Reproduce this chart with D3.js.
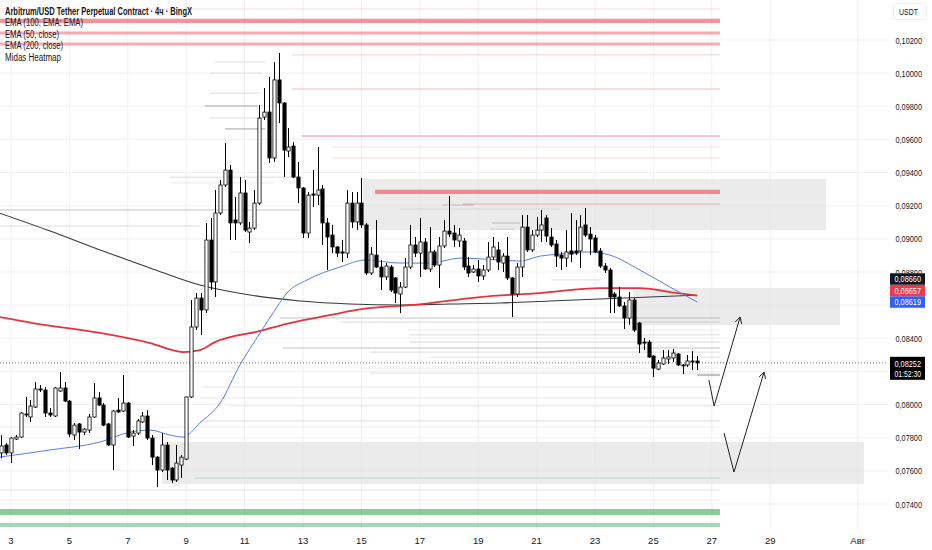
<!DOCTYPE html>
<html>
<head>
<meta charset="utf-8">
<script src="https://cdn.jsdelivr.net/npm/d3@7"></script>
<style>
  body { margin: 0; background: #fff; }
  svg { display: block; font-family: "Liberation Sans Narrow", "Liberation Sans", Arial, sans-serif; }
</style>
</head>
<body>
<script>
// Bars: 4h, first bar = July 2, 16:00 (day numbers are days of July, Aug 1 = 32)
const firstBarDay = 2 + 16 / 24;
const barDays = 4 / 24;

// [open, high, low, close]
const ohlc = [
  [0.07708,0.07816,0.07677,0.07750],[0.07756,0.07768,0.07695,0.07708],[0.07708,0.07804,0.07647,0.07798],[0.07792,0.07816,0.07786,0.07804],
  [0.07804,0.07955,0.07798,0.07949],[0.07943,0.08046,0.07925,0.07937],[0.07925,0.08027,0.07895,0.07991],[0.07985,0.08136,0.07979,0.08094],
  [0.08094,0.08118,0.08076,0.08090],[0.08088,0.08106,0.07925,0.07949],[0.07949,0.07979,0.07925,0.07937],[0.07931,0.08106,0.07925,0.08100],
  [0.08082,0.08196,0.08076,0.08100],[0.08100,0.08136,0.08015,0.08021],[0.08021,0.08027,0.07804,0.07822],[0.07816,0.07889,0.07786,0.07876],
  [0.07883,0.07889,0.07732,0.07834],[0.07834,0.07858,0.07816,0.07852],[0.07846,0.07943,0.07828,0.07925],[0.07925,0.08130,0.07919,0.08040],
  [0.08040,0.08076,0.07991,0.07997],[0.07997,0.08009,0.07870,0.07876],[0.07883,0.07889,0.07750,0.07756],[0.07756,0.07967,0.07605,0.07961],
  [0.07967,0.08040,0.07952,0.07955],[0.07961,0.08178,0.07955,0.08009],[0.08009,0.08015,0.07798,0.07804],[0.07810,0.07846,0.07750,0.07828],
  [0.07828,0.07913,0.07816,0.07901],[0.07895,0.07955,0.07889,0.07931],[0.07931,0.07967,0.07786,0.07798],[0.07798,0.07816,0.07635,0.07683],
  [0.07683,0.07689,0.07502,0.07605],[0.07605,0.07828,0.07593,0.07756],[0.07756,0.07774,0.07545,0.07605],[0.07617,0.07623,0.07527,0.07545],
  [0.07545,0.07756,0.07533,0.07647],[0.07635,0.07695,0.07557,0.07683],[0.07671,0.08046,0.07665,0.08046],[0.08046,0.08631,0.08040,0.08468],
  [0.08468,0.08673,0.08450,0.08643],[0.08643,0.08673,0.08420,0.08571],[0.08571,0.09096,0.08552,0.08993],[0.08993,0.09126,0.08691,0.08740],
  [0.08740,0.09295,0.08649,0.09156],[0.09156,0.09355,0.09144,0.09325],[0.09325,0.09578,0.09313,0.09415],[0.09415,0.09446,0.08993,0.09096],
  [0.09114,0.09252,0.08993,0.09096],[0.09096,0.09373,0.09084,0.09277],[0.09277,0.09355,0.09041,0.09053],[0.09041,0.09102,0.08975,0.09065],
  [0.09065,0.09295,0.09053,0.09216],[0.09216,0.09808,0.09204,0.09729],[0.09735,0.09910,0.09717,0.09765],[0.09765,0.09977,0.09458,0.09488],
  [0.09488,0.10067,0.09464,0.09959],[0.09959,0.10122,0.09699,0.09820],[0.09820,0.09826,0.09373,0.09536],[0.09530,0.09669,0.09494,0.09554],
  [0.09560,0.09584,0.09367,0.09373],[0.09373,0.09464,0.09216,0.09307],[0.09307,0.09313,0.09005,0.09035],[0.09035,0.09283,0.09005,0.09264],
  [0.09271,0.09415,0.09192,0.09264],[0.09264,0.09554,0.09204,0.09295],[0.09301,0.09325,0.08963,0.09096],[0.09096,0.09126,0.08812,0.09011],
  [0.09023,0.09084,0.08914,0.08951],[0.08951,0.08957,0.08890,0.08914],[0.08921,0.08993,0.08860,0.08914],[0.08914,0.09295,0.08884,0.09216],
  [0.09216,0.09283,0.09065,0.09102],[0.09102,0.09283,0.09053,0.09216],[0.09216,0.09367,0.09065,0.09084],[0.09084,0.09096,0.08782,0.08794],
  [0.08794,0.08951,0.08782,0.08908],[0.08902,0.09114,0.08824,0.08830],[0.08830,0.08872,0.08691,0.08770],[0.08770,0.08854,0.08752,0.08836],
  [0.08830,0.08842,0.08679,0.08691],[0.08764,0.08770,0.08613,0.08673],[0.08667,0.08740,0.08552,0.08709],[0.08709,0.08884,0.08703,0.08830],
  [0.08830,0.09084,0.08818,0.08963],[0.08963,0.09011,0.08890,0.08914],[0.08914,0.09126,0.08770,0.08981],[0.08981,0.09005,0.08812,0.08818],
  [0.08818,0.09071,0.08800,0.08921],[0.08921,0.08933,0.08830,0.08842],[0.08842,0.09011,0.08703,0.08957],[0.08957,0.09114,0.08945,0.09047],
  [0.09047,0.09258,0.09011,0.09029],[0.09035,0.09084,0.08951,0.08993],[0.08987,0.09065,0.08951,0.09023],[0.08987,0.09005,0.08812,0.08830],
  [0.08836,0.08890,0.08770,0.08794],[0.08800,0.08842,0.08794,0.08818],[0.08818,0.08872,0.08740,0.08776],[0.08776,0.08842,0.08752,0.08812],
  [0.08812,0.08981,0.08800,0.08890],[0.08890,0.09011,0.08872,0.08951],[0.08933,0.08981,0.08812,0.08860],[0.08854,0.08914,0.08800,0.08896],
  [0.08896,0.09011,0.08752,0.08764],[0.08764,0.08770,0.08528,0.08667],[0.08667,0.08854,0.08649,0.08830],[0.08830,0.09144,0.08770,0.09071],
  [0.09071,0.09144,0.08921,0.08933],[0.08933,0.09053,0.08921,0.09023],[0.09023,0.09132,0.09011,0.09053],[0.09053,0.09174,0.08981,0.09084],
  [0.09126,0.09144,0.08981,0.09017],[0.09011,0.09065,0.08951,0.08963],[0.08969,0.08993,0.08830,0.08896],[0.08902,0.08921,0.08812,0.08884],
  [0.08884,0.09053,0.08830,0.08921],[0.08927,0.09156,0.08860,0.08908],[0.08927,0.09114,0.08902,0.08914],[0.08927,0.09144,0.08824,0.09071],
  [0.09084,0.09186,0.09011,0.09023],[0.09029,0.09071,0.08902,0.08999],[0.09005,0.09023,0.08914,0.08921],[0.08927,0.08945,0.08824,0.08836],
  [0.08836,0.08854,0.08794,0.08812],[0.08812,0.08824,0.08552,0.08649],[0.08667,0.08679,0.08552,0.08649],[0.08649,0.08709,0.08589,0.08595],
  [0.08595,0.08619,0.08456,0.08522],[0.08522,0.08679,0.08481,0.08631],[0.08631,0.08643,0.08438,0.08450],[0.08492,0.08498,0.08311,0.08365],
  [0.08377,0.08402,0.08329,0.08371],[0.08377,0.08389,0.08281,0.08287],[0.08293,0.08299,0.08166,0.08220],[0.08214,0.08269,0.08208,0.08251],
  [0.08245,0.08329,0.08239,0.08281],[0.08275,0.08329,0.08245,0.08287],[0.08281,0.08335,0.08257,0.08311],[0.08305,0.08311,0.08233,0.08239],
  [0.08239,0.08245,0.08184,0.08233],[0.08239,0.08299,0.08227,0.08263],[0.08263,0.08323,0.08208,0.08257],[0.08263,0.08293,0.08208,0.08252]
];

// EMA lines: [day, price]
const ema200 = [
  [2.6,0.09156],[4.34,0.09047],[6.05,0.08933],[7.76,0.08824],[9.47,0.08721],[11.18,0.08661],[12.9,0.08625],
  [14.61,0.08607],[16.32,0.08601],[18.03,0.08607],[19.75,0.08613],[21.46,0.08625],[23.17,0.08637],[24.88,0.08649],[26.5,0.08660]
];
const ema100 = [
  [2.6,0.08528],[3.75,0.08492],[6.05,0.08432],[7.76,0.08371],[8.89,0.08317],[9.47,0.08329],[9.99,0.08377],
  [11.53,0.08444],[12.55,0.08492],[13.92,0.08540],[15.05,0.08577],[16.77,0.08601],[19.06,0.08649],[21.12,0.08673],
  [23.17,0.08703],[24.54,0.08703],[25.57,0.08679],[26.5,0.08657]
];
const ema50 = [
  [2.6,0.07683],[4.34,0.07726],[6.05,0.07774],[7.08,0.07834],[7.76,0.07846],[8.45,0.07816],[8.89,0.07804],
  [9.47,0.07889],[10.16,0.08009],[10.84,0.08239],[11.53,0.08432],[12.11,0.08589],[12.45,0.08673],[13.14,0.08752],
  [14.27,0.08830],[15.12,0.08872],[16.32,0.08854],[17.35,0.08854],[18.38,0.08884],[19.75,0.08872],[20.43,0.08866],
  [21.12,0.08896],[21.8,0.08908],[22.83,0.08921],[23.51,0.08902],[24.54,0.08812],[25.57,0.08709],[26.5,0.08619]
];

// Midas heatmap levels
const heatEndDay = 27.28;
// [price, fromDay, weight]
const redLevels = [
  [0.10387,2.6,1],[0.10315,2.6,5],[0.10242,2.6,3.5],[0.10176,2.6,3.5],[0.10110,12.62,1],[0.09904,12.62,1.5],
  [0.09621,12.97,2],[0.09554,13.92,0.7],[0.09488,13.99,0.7],[0.09283,15.47,5],[0.09210,18.48,1.5]
];
const greenLevels = [
  [0.07352,2.6,6],[0.07273,2.6,4],[0.07557,9.3,0.8]
];
// [price, fromDay, toDay, weight]
const grayLevels = [
  [0.09174,2.6,12.9,1.5],[0.09078,2.6,9.5,1],[0.10067,9.99,11.7,1],[0.10001,9.81,11.6,0.8],[0.09880,9.81,11.53,1],
  [0.09802,9.64,11.46,2],[0.09729,9.81,11.6,1],[0.09663,10.33,11.7,2],[0.09373,8.45,12.9,1],[0.09337,8.45,12.0,0.8],
  [0.09204,17.77,18.86,1.5],[0.09180,16.32,21.8,0.8],[0.09096,19.47,20.43,1.5],[0.09059,19.4,20.26,1],
  [0.08921,10.5,27.28,0.6],[0.08752,21.5,23.2,1],[0.08522,12.21,27.28,1.5],[0.08498,14.27,27.28,1],
  [0.08450,16.6,27.28,0.7],[0.08420,16.66,27.28,1],[0.08377,16.66,27.28,1.2],[0.08341,12.31,27.28,1.5],
  [0.08317,15.3,27.28,1],[0.08287,17.35,27.28,1],[0.08220,15.0,27.28,0.6],[0.08190,15.3,27.28,0.8],
  [0.08178,26.5,27.28,2.5],[0.08106,9.57,27.28,1],[0.08040,9.47,27.28,0.8],[0.07991,10.5,27.28,0.8],
  [0.07901,9.47,27.28,1],[0.07864,2.6,27.28,0.6],[0.07484,2.6,27.28,0.8],[0.07424,2.6,27.28,0.6]
];

// Grey zones: [fromDay, toDay, top price, bottom price]
const zones = [
  [15.05,30.91,0.09361,0.09053],
  [24.30,31.39,0.08703,0.08480],
  [8.17,32.21,0.07774,0.07521]
];

// Hand drawn arrows: [day, price]
const arrows = [
  [[26.90,0.08148],[27.08,0.07991],[27.97,0.08528]],
  [[27.42,0.07828],[27.76,0.07593],[28.79,0.08196]]
];

// Axes
const priceTicks = [0.074,0.076,0.078,0.080,0.082,0.084,0.086,0.088,0.090,0.092,0.094,0.096,0.098,0.100,0.102];
const dayTicks = [3,5,7,9,11,13,15,17,19,21,23,25,27,29,32];
const dayLabels = ['3','5','7','9','11','13','15','17','19','21','23','25','27','29','Авг'];

const legendLines = ['Arbitrum/USD Tether Perpetual Contract · 4ч · BingX','EMA (100, EMA: EMA)','EMA (50, close)','EMA (200, close)','Midas Heatmap'];

// Value tags on the price scale
const lastValues = [
  { value: 0.08660, color: '#131722' },
  { value: 0.08657, color: '#f0394d' },
  { value: 0.08619, color: '#2962ff' }
];
const lastPrice = 0.08252;
const countdown = '01:52:30';

draw();

function draw() {
  const width = 932, height = 550;
  const plotW = 888, plotH = 530;

  // widths the legend rows take in the screenshot (the font there is narrow)
  const legendWidths = [187, 78, 54, 58, 56];
  const priceTextW = 26.5;

  const x = d3.scaleLinear().domain([3, 29]).range([11, 770.2]);
  const y = d3.scaleLinear().domain([0.074, 0.102]).range([504, 40]);

  const fmt = d3.formatLocale({ decimal: ',', thousands: ' ', grouping: [3], currency: ['', ''] }).format('.5f');

  const redW = d3.scaleLinear().domain([0.7, 5]).range([1, 4.2]);
  const redO = d3.scaleLinear().domain([0.7, 5]).range([0.16, 0.55]);
  const greenW = d3.scaleLinear().domain([0.8, 6]).range([1.2, 6]);
  const greenO = d3.scaleLinear().domain([0.8, 6]).range([0.22, 0.55]);
  const grayW = d3.scaleLinear().domain([0.6, 2.5]).range([1, 2]);
  const grayO = d3.scaleLinear().domain([0.6, 2.5]).range([0.15, 0.55]);

  const svg = d3.select('body')
    .append('svg')
    .attr('width', width)
    .attr('height', height);

  svg.append('rect').attr('width', width).attr('height', height).attr('fill', '#fff');

  const defs = svg.append('defs');
  defs.append('clipPath').attr('id', 'plot')
    .append('rect').attr('width', plotW).attr('height', plotH);

  const g = svg.append('g').attr('clip-path', 'url(#plot)');

  // grid
  g.selectAll('line.vgrid')
    .data(dayTicks)
    .enter()
    .append('line')
    .attr('x1', d => x(d)).attr('x2', d => x(d))
    .attr('y1', 0).attr('y2', plotH)
    .attr('stroke', '#f1f1f3');

  g.selectAll('line.hgrid')
    .data(priceTicks)
    .enter()
    .append('line')
    .attr('x1', 0).attr('x2', plotW)
    .attr('y1', d => y(d)).attr('y2', d => y(d))
    .attr('stroke', '#f1f1f3');

  // zones
  g.selectAll('rect.zone')
    .data(zones)
    .enter()
    .append('rect')
    .attr('x', d => x(d[0]))
    .attr('width', d => x(d[1]) - x(d[0]))
    .attr('y', d => y(d[2]))
    .attr('height', d => y(d[3]) - y(d[2]))
    .attr('fill', '#e4e4e4')
    .attr('opacity', 0.75);

  // heatmap
  g.selectAll('line.gray')
    .data(grayLevels)
    .enter()
    .append('line')
    .attr('x1', d => x(d[1])).attr('x2', d => x(d[2]))
    .attr('y1', d => y(d[0])).attr('y2', d => y(d[0]))
    .attr('stroke', '#8a8a8a')
    .attr('stroke-opacity', d => grayO(d[3]))
    .attr('stroke-width', d => grayW(d[3]));

  g.selectAll('line.red')
    .data(redLevels)
    .enter()
    .append('line')
    .attr('x1', d => x(d[1])).attr('x2', x(heatEndDay))
    .attr('y1', d => y(d[0])).attr('y2', d => y(d[0]))
    .attr('stroke', '#f23645')
    .attr('stroke-opacity', d => redO(d[2]))
    .attr('stroke-width', d => redW(d[2]));

  g.selectAll('line.green')
    .data(greenLevels)
    .enter()
    .append('line')
    .attr('x1', d => x(d[1])).attr('x2', x(heatEndDay))
    .attr('y1', d => y(d[0])).attr('y2', d => y(d[0]))
    .attr('stroke', '#2ca14a')
    .attr('stroke-opacity', d => greenO(d[2]))
    .attr('stroke-width', d => greenW(d[2]));

  // last price line
  g.append('line')
    .attr('x1', 0).attr('x2', plotW)
    .attr('y1', y(lastPrice)).attr('y2', y(lastPrice))
    .attr('stroke', '#7a7a7a')
    .attr('stroke-width', 1)
    .attr('stroke-dasharray', '1,2');

  // EMAs
  const line = d3.line().x(d => x(d[0])).y(d => y(d[1])).curve(d3.curveMonotoneX);

  g.append('path').datum(ema200).attr('d', line)
    .attr('fill', 'none').attr('stroke', '#3a3a3a').attr('stroke-width', 1.1);
  g.append('path').datum(ema100).attr('d', line)
    .attr('fill', 'none').attr('stroke', '#e5323f').attr('stroke-width', 1.8);
  g.append('path').datum(ema50).attr('d', line)
    .attr('fill', 'none').attr('stroke', '#5b7ee5').attr('stroke-width', 1);

  // candles
  const bodyW = 3.2;
  const barX = i => x(firstBarDay + i * barDays);

  g.selectAll('line.wick')
    .data(ohlc)
    .enter()
    .append('line')
    .attr('x1', (d, i) => Math.round(barX(i)) + 0.5)
    .attr('x2', (d, i) => Math.round(barX(i)) + 0.5)
    .attr('y1', d => y(d[1]))
    .attr('y2', d => y(d[2]))
    .attr('stroke', '#000')
    .attr('stroke-width', 1);

  g.selectAll('rect.body')
    .data(ohlc)
    .enter()
    .append('rect')
    .attr('x', (d, i) => Math.round(barX(i)) + 0.5 - bodyW / 2)
    .attr('width', bodyW)
    .attr('y', d => y(Math.max(d[0], d[3])))
    .attr('height', d => Math.max(1, Math.abs(y(d[0]) - y(d[3]))))
    .attr('fill', d => d[3] >= d[0] ? '#fff' : '#000')
    .attr('stroke', '#000')
    .attr('stroke-width', 0.8);

  // arrows
  arrows.forEach(a => {
    const pts = a.map(p => [x(p[0]), y(p[1])]);
    g.append('path')
      .attr('d', d3.line()(pts))
      .attr('fill', 'none').attr('stroke', '#222').attr('stroke-width', 1);
    const tip = pts[pts.length - 1], prev = pts[pts.length - 2];
    const ang = Math.atan2(tip[1] - prev[1], tip[0] - prev[0]);
    const len = 7, spread = 0.5;
    const head = [
      [tip[0] - len * Math.cos(ang - spread), tip[1] - len * Math.sin(ang - spread)],
      tip,
      [tip[0] - len * Math.cos(ang + spread), tip[1] - len * Math.sin(ang + spread)]
    ];
    g.append('path')
      .attr('d', d3.line()(head))
      .attr('fill', 'none').attr('stroke', '#222').attr('stroke-width', 1);
  });

  // legend
  svg.selectAll('text.legend')
    .data(legendLines)
    .enter()
    .append('text')
    .text(d => d)
    .attr('x', 5)
    .attr('y', (d, i) => 11 + i * 11.5)
    .attr('dominant-baseline', 'central')
    .attr('font-size', 10)
    .attr('textLength', (d, i) => legendWidths[i])
    .attr('lengthAdjust', 'spacingAndGlyphs')
    .attr('font-weight', (d, i) => i === 0 ? 700 : 400)
    .attr('fill', '#131722');

  // value tags stacked upward from the lowest one
  const tagH = 11.5;
  const tags = lastValues.slice().sort((a, b) => a.value - b.value);
  let prevY = Infinity;
  tags.forEach(t => {
    t.cy = Math.min(y(t.value), prevY - tagH);
    prevY = t.cy;
  });
  const ly = y(lastPrice);
  const blocked = tags.map(t => [t.cy - tagH / 2, t.cy + tagH / 2]).concat([[ly - 6, ly + 17]]);

  // price scale
  svg.append('rect')
    .attr('x', 893.5).attr('y', 3.5).attr('width', 33).attr('height', 16)
    .attr('rx', 2)
    .attr('fill', '#fff').attr('stroke', '#eceef2');
  svg.append('text')
    .text('USDT')
    .attr('x', 899).attr('y', 11.5)
    .attr('dominant-baseline', 'central')
    .attr('font-size', 8.5)
    .attr('textLength', 19)
    .attr('lengthAdjust', 'spacingAndGlyphs')
    .attr('fill', '#131722');

  // a tick label sitting under a tag is hidden; one half covered shows only its top part
  const blockTop = d3.min(blocked, b => b[0]);
  defs.append('clipPath').attr('id', 'abovetag')
    .append('rect').attr('x', 880).attr('width', 52).attr('y', 0).attr('height', blockTop);

  const visibleTicks = priceTicks.filter(p => !blocked.some(b => y(p) > b[0] + 3 && y(p) < b[1]));

  svg.selectAll('text.price')
    .data(visibleTicks)
    .enter()
    .append('text')
    .text(d => fmt(d))
    .attr('x', 895.5)
    .attr('y', d => y(d))
    .attr('dominant-baseline', 'central')
    .attr('font-size', 9.5)
    .attr('textLength', priceTextW)
    .attr('lengthAdjust', 'spacingAndGlyphs')
    .attr('clip-path', d => blocked.some(b => y(d) > b[0] - 6 && y(d) < b[1]) ? 'url(#abovetag)' : null)
    .attr('fill', '#131722');

  svg.selectAll('text.day')
    .data(dayTicks)
    .enter()
    .append('text')
    .text((d, i) => dayLabels[i])
    .attr('x', d => x(d))
    .attr('y', 540)
    .attr('text-anchor', 'middle')
    .attr('dominant-baseline', 'central')
    .attr('font-size', 9.5)
    .attr('fill', '#131722');

  const tg = svg.selectAll('g.tag')
    .data(tags)
    .enter()
    .append('g');
  tg.append('rect')
    .attr('x', 890).attr('width', 35)
    .attr('y', d => d.cy - tagH / 2).attr('height', tagH)
    .attr('fill', d => d.color);
  tg.append('text')
    .text(d => fmt(d.value))
    .attr('x', 894.5).attr('y', d => d.cy)
    .attr('dominant-baseline', 'central')
    .attr('font-size', 9.5)
    .attr('textLength', priceTextW)
    .attr('lengthAdjust', 'spacingAndGlyphs')
    .attr('fill', '#fff');

  svg.append('rect')
    .attr('x', 890).attr('width', 35)
    .attr('y', ly - 6).attr('height', 23)
    .attr('fill', '#000');
  svg.append('text')
    .text(fmt(lastPrice))
    .attr('x', 894.5).attr('y', ly + 0.5)
    .attr('dominant-baseline', 'central')
    .attr('font-size', 9.5)
    .attr('textLength', priceTextW)
    .attr('lengthAdjust', 'spacingAndGlyphs')
    .attr('fill', '#fff');
  svg.append('text')
    .text(countdown)
    .attr('x', 894.5).attr('y', ly + 11)
    .attr('dominant-baseline', 'central')
    .attr('font-size', 9.5)
    .attr('textLength', priceTextW)
    .attr('lengthAdjust', 'spacingAndGlyphs')
    .attr('fill', '#fff');
}
</script>
</body>
</html>
